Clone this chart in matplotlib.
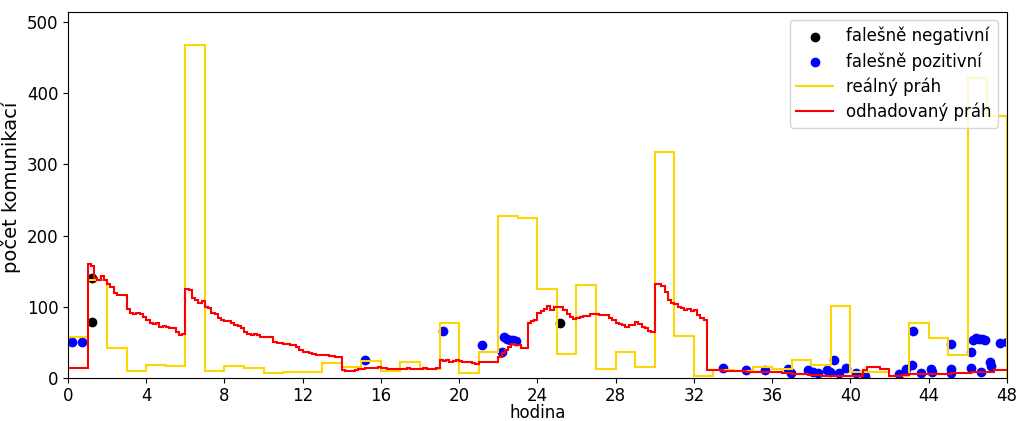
import numpy as np
import matplotlib
matplotlib.use("Agg")
import matplotlib.pyplot as plt

# Real threshold, one value per hour (0-48 h)
real_threshold = [57, 138, 42, 10, 18, 17, 468, 10, 17, 14, 7, 9,
                  9, 21, 15, 24, 10, 22, 13, 77, 7, 36, 228, 225,
                  125, 34, 130, 13, 36, 16, 318, 59, 3, 12, 10, 16,
                  13, 25, 18, 101, 8, 8, 3, 77, 56, 32, 421, 368]

# Estimated threshold, one value per 10 minutes (six per hour)
est_threshold = [
    14, 14, 14, 14, 14, 14,
    160, 158, 140, 138, 143, 137,
    132, 128, 120, 117, 117, 116,
    97, 91, 90, 92, 90, 86,
    82, 78, 76, 77, 72, 73,
    72, 70, 70, 65, 61, 62,
    125, 123, 112, 110, 106, 108,
    100, 98, 92, 90, 85, 82,
    80, 80, 77, 75, 73, 70,
    64, 62, 60, 62, 60, 58,
    57, 57, 57, 51, 49, 49,
    48, 48, 46, 46, 43, 40,
    36, 36, 35, 34, 33, 33,
    32, 32, 31, 31, 30, 30,
    11, 10, 10, 10, 12, 13,
    13, 14, 14, 14, 14, 15,
    14, 14, 13, 13, 13, 13,
    13, 13, 14, 13, 13, 13,
    13, 14, 13, 13, 13, 14,
    25, 24, 25, 23, 24, 25,
    24, 23, 22, 22, 21, 20,
    23, 23, 23, 23, 23, 23,
    30, 35, 39, 44, 48, 47,
    47, 42, 42, 77, 80, 82,
    91, 94, 97, 101, 96, 100,
    100, 100, 95, 90, 86, 83,
    84, 86, 87, 87, 90, 90,
    90, 89, 89, 88, 85, 82,
    78, 76, 74, 72, 74, 75,
    79, 76, 72, 70, 66, 64,
    132, 132, 129, 121, 110, 105,
    104, 100, 98, 96, 97, 94,
    95, 88, 84, 82, 11, 11,
    11, 11, 11, 10, 10, 10,
    10, 10, 10, 10, 9, 9,
    9, 9, 9, 9, 8, 8,
    8, 8, 8, 7, 7, 7,
    6, 6, 5, 5, 5, 4,
    4, 4, 4, 3, 3, 3,
    3, 3, 3, 3, 3, 3,
    3, 3, 3, 3, 12, 16,
    16, 16, 15, 13, 13, 13,
    3, 3, 3, 3, 4, 4,
    5, 5, 5, 5, 6, 6,
    6, 6, 6, 6, 6, 6,
    6, 7, 7, 7, 7, 7,
    7, 8, 8, 8, 8, 8,
    8, 8, 12, 12, 12, 12,
]

# False negatives (hour, count)
fn_hour = [1.23, 1.23, 25.17]
fn_count = [141, 79, 78]

# False positives (hour, count)
fp_hour = [0.2, 0.72, 15.18, 19.19, 21.18, 22.17, 22.3, 22.45, 22.6, 22.75,
           22.9, 33.5, 34.66, 35.65, 36.82, 36.99, 37.84, 38.1, 38.36, 38.79,
           38.96, 39.17, 39.4, 39.79, 40.3, 40.74, 42.5, 42.87, 43.13, 43.2,
           43.64, 44.15, 44.16, 45.14, 45.17, 45.17, 46.16, 46.16, 46.3, 46.45,
           46.6, 46.75, 46.9, 46.67, 47.13, 47.2, 47.64, 48.0]
fp_count = [50, 50, 25, 66, 46, 37, 57, 55, 54, 53,
            52, 14, 12, 12, 13, 7, 12, 9, 7, 11,
            9, 25, 7, 14, 7, 3, 6, 13, 18, 66,
            7, 13, 8, 48, 13, 7, 37, 14, 53, 56,
            55, 55, 54, 9, 23, 17, 49, 51]

x_ticks = list(range(0, 49, 4))
y_ticks = list(range(0, 501, 100))

plt.rcParams["font.size"] = 12

fig = plt.figure(figsize=(10.2, 4.21), dpi=100)
ax = fig.add_axes([0.0667, 0.102, 0.9203, 0.8695])

hour_edges = np.arange(len(real_threshold) + 1)
est_edges = np.arange(len(est_threshold) + 1) / 6.0

ax.scatter(fn_hour, fn_count, color="black", s=36, zorder=1,
           label="falešně negativní")
ax.scatter(fp_hour, fp_count, color="blue", s=36, zorder=1,
           label="falešně pozitivní")
ax.stairs(real_threshold, hour_edges, color="gold", linewidth=1.5,
          zorder=2, label="reálný práh")
ax.stairs(est_threshold, est_edges, baseline=None, color="red",
          linewidth=1.5, zorder=2, label="odhadovaný práh")

ax.set_xlim(0, 48)
ax.set_ylim(0, 514)
ax.set_xticks(x_ticks)
ax.set_yticks(y_ticks)
ax.tick_params(axis="x", pad=3)
ax.set_xlabel("hodina", labelpad=-1)
ax.set_ylabel("počet komunikací", fontsize=14)
ax.yaxis.set_label_coords(-0.05, 0.52)
ax.legend(loc="upper right", labelspacing=0.4, handlelength=2.2)

fig.savefig("out.png", dpi=100)
